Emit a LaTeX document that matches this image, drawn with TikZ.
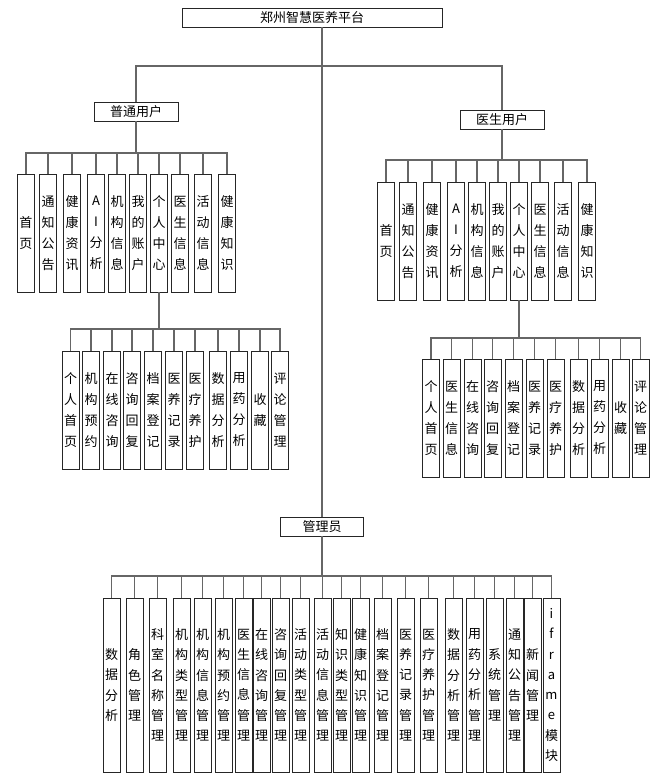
\documentclass[tikz,border=0pt]{standalone}
\usepackage{fontspec}
\newfontfamily\cjk{Noto Sans CJK SC}
\usetikzlibrary{positioning}
% one character per line
\def\vtxt#1{\expandafter\vtfirst#1\relax}
\def\vtfirst#1{#1\vtrest}
\def\vtrest#1{\ifx\relax#1\else\\#1\expandafter\vtrest\fi}
\tikzset{
  head/.style={draw=black!85, line width=0.9pt, minimum height=19pt, inner sep=0pt, font=\cjk\fontsize{13}{15}\selectfont},
  leaf/.style={draw=black!85, line width=0.9pt, minimum width=17pt, minimum height=118pt, inner sep=0pt, align=center, font=\cjk\fontsize{13}{21}\selectfont},
  aleaf/.style={leaf, minimum height=174pt, font=\cjk\fontsize{13}{20.3}\selectfont},
  link/.style={draw=black!60, line width=1.2pt}
}

\begin{document}
\begin{tikzpicture}[x=1pt, y=-1pt]
	\useasboundingbox (0,0) rectangle (652,776);
	\node[head, minimum width=260pt] (root) at (312,17.5) {郑州智慧医养平台};
	\node[head, minimum width=84pt] (user) at (136,111.5) {普通用户};
	\node[head, minimum width=84pt] (doc) at (502,119.5) {医生用户};
	\node[head, minimum width=83pt] (admin) at (322,526.5) {管理员};
	\coordinate (top) at (0,66);
	\coordinate (ubus) at (0,153);
	\coordinate (dbus) at (0,160);
	\coordinate (usbus) at (0,329);
	\coordinate (dsbus) at (0,338);
	\coordinate (abus) at (0,576);
	% trunk
	\draw[link] (admin.north |- root.south) -- (admin.north);
	\draw[link] (admin.north |- top) -| (user.north);
	\draw[link] (admin.north |- top) -| (doc.north);
	% user and doctor menus
	\foreach \x/\t [count=\i] in {26/首页, 48/通知公告, 72/健康资讯, 96/AI分析, 117/机构信息,
	    138/我的账户, 159/个人中心, 180/医生信息, 203/活动信息, 227/健康知识} {
		\node[leaf] (u\i) at (\x,233) {\vtxt\t};
		\node[leaf] (d\i) at (\x+360,241) {\vtxt\t};
		\draw[link] (user.south) |- (u\i.north |- ubus) -- (u\i.north);
		\draw[link] (doc.south) |- (d\i.north |- dbus) -- (d\i.north);
	}
	% personal centre
	\foreach \x/\s/\t [count=\i] in {70.5/个人首页/个人首页, 91/机构预约/医生信息, 112/在线咨询/在线咨询,
	    132/咨询回复/咨询回复, 153/档案登记/档案登记, 174/医养记录/医养记录, 195/医疗养护/医疗养护,
	    218/数据分析/数据分析, 239/用药分析/用药分析, 260/收藏/收藏, 280/评论管理/评论管理} {
		\node[leaf] (us\i) at (\x,410) {\vtxt\s};
		\node[leaf] (ds\i) at (\x+360.5,418) {\vtxt\t};
		\draw[link] (u7.south) |- (us\i.north |- usbus) -- (us\i.north);
		\draw[link] (d7.south) |- (ds\i.north |- dsbus) -- (ds\i.north);
	}
	% admin
	\foreach \x/\t [count=\i] in {111.5/数据分析, 134.5/角色管理, 157.5/科室名称管理, 181.5/机构类型管理,
	    202.5/机构信息管理, 223.5/机构预约管理, 243.5/医生信息管理, 261.5/在线咨询管理,
	    280.5/咨询回复管理, 300.5/活动类型管理, 322.5/活动信息管理, 341.5/知识类型管理,
	    360.5/健康知识管理, 382.5/档案登记管理, 405.5/医养记录管理, 428.5/医疗养护管理,
	    453.5/数据分析管理, 474.5/用药分析管理, 494.5/系统管理, 514.5/通知公告管理,
	    532.5/新闻管理, 551.5/iframe模块} {
		\node[aleaf] (a\i) at (\x,685) {\vtxt\t};
		\draw[link] (admin.south) |- (a\i.north |- abus) -- (a\i.north);
	}
\end{tikzpicture}
\end{document}
